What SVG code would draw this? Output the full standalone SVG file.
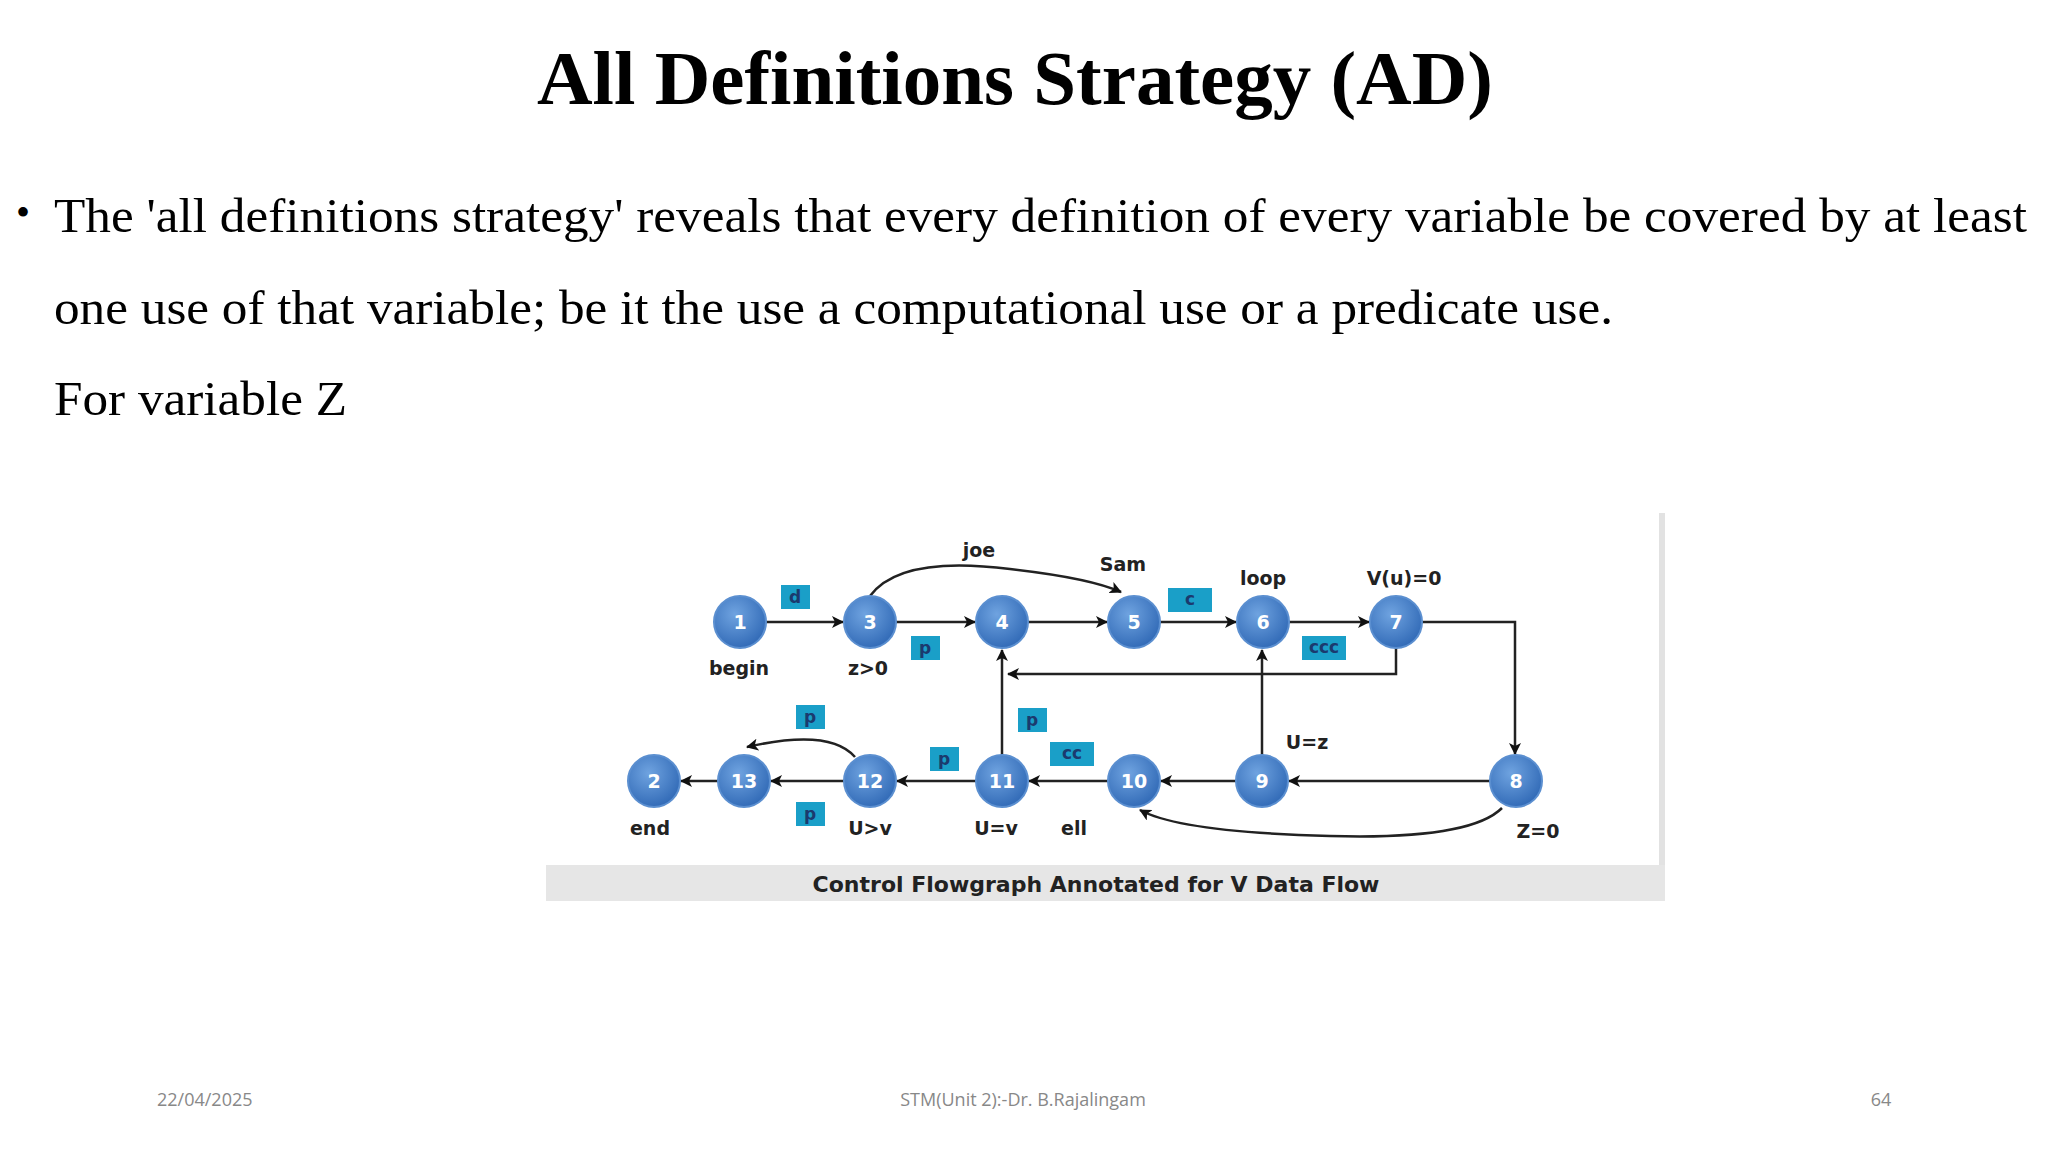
<svg xmlns="http://www.w3.org/2000/svg" width="2048" height="1152" viewBox="0 0 2048 1152">
<defs>
<marker id="ah" markerWidth="12" markerHeight="12" refX="11" refY="6" orient="auto" markerUnits="userSpaceOnUse" viewBox="0 0 12 12"><path d="M0,0 L12,6 L0,12 L3,6 z" fill="#111"/></marker>
<radialGradient id="ng" cx="0.4" cy="0.35" r="0.7"><stop offset="0" stop-color="#6fa3e0"/><stop offset="1" stop-color="#2f68b5"/></radialGradient>
</defs>
<style>
.t{font-family:"Liberation Serif",serif;fill:#000}
.f{font-family:"Open Sans","Liberation Sans",sans-serif;font-size:18px;fill:#888}
.n circle{fill:url(#ng);stroke:#5b8fd0;stroke-width:2}
.n text{font-family:"DejaVu Sans",sans-serif;font-weight:bold;font-size:19px;fill:#fff;text-anchor:middle}
.l{font-family:"DejaVu Sans",sans-serif;font-weight:bold;font-size:19px;fill:#222;text-anchor:middle}
.b rect{fill:#1a9fc8}
.b text{font-family:"DejaVu Sans",sans-serif;font-weight:bold;font-size:17px;fill:#1b3a6e;text-anchor:middle}
#edges path,#edges line{stroke:#222;stroke-width:2.5;fill:none;marker-end:url(#ah)}
</style>
<rect width="2048" height="1152" fill="#fff"/>
<text class="t" x="1015" y="104" font-size="77" font-weight="bold" text-anchor="middle">All Definitions Strategy (AD)</text>
<text class="t" x="16" y="226" font-size="40">•</text>
<text class="t" x="54" y="232" font-size="49" textLength="1973" lengthAdjust="spacingAndGlyphs">The 'all definitions strategy' reveals that every definition of every variable be covered by at least</text>
<text class="t" x="54" y="324" font-size="49" textLength="1559" lengthAdjust="spacingAndGlyphs">one use of that variable; be it the use a computational use or a predicate use.</text>
<text class="t" x="54" y="415" font-size="49" textLength="293" lengthAdjust="spacingAndGlyphs">For variable Z</text>
<rect x="546" y="513" width="1119" height="388" fill="#fff"/>
<rect x="1659" y="513" width="6" height="352" fill="#e2e2e2"/>
<rect x="546" y="865" width="1119" height="36" fill="#e6e6e6"/>
<text x="1096" y="892" font-family="DejaVu Sans,sans-serif" font-weight="bold" font-size="22" fill="#222" text-anchor="middle">Control Flowgraph Annotated for V Data Flow</text>
<g id="edges">
<line x1="766" y1="622" x2="843" y2="622"/>
<line x1="896" y1="622" x2="975" y2="622"/>
<line x1="1028" y1="622" x2="1107" y2="622"/>
<line x1="1160" y1="622" x2="1236" y2="622"/>
<line x1="1289" y1="622" x2="1369" y2="622"/>
<path d="M1422,622 H1515 V754"/>
<path d="M1396,648 V674 H1008"/>
<line x1="1002" y1="755" x2="1002" y2="650"/>
<line x1="1262" y1="755" x2="1262" y2="650"/>
<line x1="1490" y1="781" x2="1289" y2="781"/>
<line x1="1236" y1="781" x2="1161" y2="781"/>
<line x1="1108" y1="781" x2="1029" y2="781"/>
<line x1="976" y1="781" x2="897" y2="781"/>
<line x1="844" y1="781" x2="771" y2="781"/>
<line x1="718" y1="781" x2="681" y2="781"/>
<path d="M1502,808 Q1470,840 1330,836 Q1180,832 1140,810"/>
<path d="M855,757 Q830,728 747,747"/>
<path d="M870,596 Q900,555 1010,569 Q1090,578 1121,592"/>
</g>
<g id="n1" class="n"><circle cx="740" cy="622" r="26"/><text x="740" y="629">1</text></g>
<g id="n3" class="n"><circle cx="870" cy="622" r="26"/><text x="870" y="629">3</text></g>
<g id="n4" class="n"><circle cx="1002" cy="622" r="26"/><text x="1002" y="629">4</text></g>
<g id="n5" class="n"><circle cx="1134" cy="622" r="26"/><text x="1134" y="629">5</text></g>
<g id="n6" class="n"><circle cx="1263" cy="622" r="26"/><text x="1263" y="629">6</text></g>
<g id="n7" class="n"><circle cx="1396" cy="622" r="26"/><text x="1396" y="629">7</text></g>
<g id="n2" class="n"><circle cx="654" cy="781" r="26"/><text x="654" y="788">2</text></g>
<g id="n13" class="n"><circle cx="744" cy="781" r="26"/><text x="744" y="788">13</text></g>
<g id="n12" class="n"><circle cx="870" cy="781" r="26"/><text x="870" y="788">12</text></g>
<g id="n11" class="n"><circle cx="1002" cy="781" r="26"/><text x="1002" y="788">11</text></g>
<g id="n10" class="n"><circle cx="1134" cy="781" r="26"/><text x="1134" y="788">10</text></g>
<g id="n9" class="n"><circle cx="1262" cy="781" r="26"/><text x="1262" y="788">9</text></g>
<g id="n8" class="n"><circle cx="1516" cy="781" r="26"/><text x="1516" y="788">8</text></g>
<g id="labels">
<text class="l" x="739" y="675">begin</text>
<text class="l" x="868" y="675">z&gt;0</text>
<text class="l" x="979" y="557">joe</text>
<text class="l" x="1123" y="571">Sam</text>
<text class="l" x="1263" y="585">loop</text>
<text class="l" x="1404" y="585">V(u)=0</text>
<text class="l" x="1307" y="749">U=z</text>
<text class="l" x="650" y="835">end</text>
<text class="l" x="870" y="835">U&gt;v</text>
<text class="l" x="996" y="835">U=v</text>
<text class="l" x="1074" y="835">ell</text>
<text class="l" x="1538" y="838">Z=0</text>
</g>
<g id="boxes" class="b">
<rect x="781" y="585" width="29" height="24"/><text x="795" y="603">d</text>
<rect x="911" y="636" width="29" height="24"/><text x="925" y="654">p</text>
<rect x="1168" y="588" width="44" height="24"/><text x="1190" y="605">c</text>
<rect x="1302" y="636" width="44" height="24"/><text x="1324" y="653">ccc</text>
<rect x="1018" y="708" width="29" height="24"/><text x="1032" y="726">p</text>
<rect x="1050" y="742" width="44" height="24"/><text x="1072" y="759">cc</text>
<rect x="930" y="747" width="29" height="24"/><text x="944" y="765">p</text>
<rect x="796" y="705" width="29" height="24"/><text x="810" y="723">p</text>
<rect x="796" y="802" width="29" height="24"/><text x="810" y="820">p</text>
</g>
<text class="f" x="157" y="1106">22/04/2025</text>
<text class="f" x="1023" y="1106" text-anchor="middle">STM(Unit 2):-Dr. B.Rajalingam</text>
<text class="f" x="1881" y="1106" text-anchor="middle">64</text>
</svg>
